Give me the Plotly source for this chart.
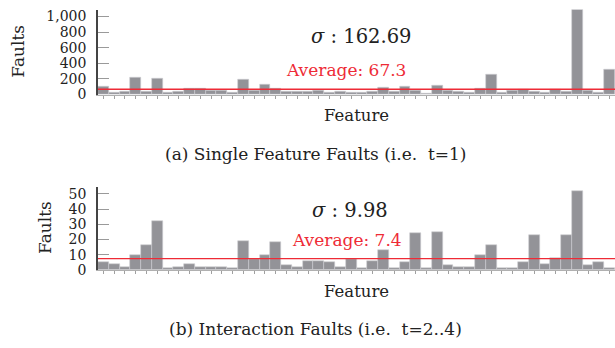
import plotly.graph_objects as go

W, H = 615, 348

features = list(range(1, 49))
single_faults = [100, 25, 42, 222, 34, 202, 20, 34, 71, 71,
                 55, 55, 20, 197, 50, 122, 71, 34, 38, 38,
                 46, 29, 38, 25, 25, 42, 84, 34, 105, 50,
                 17, 109, 46, 38, 20, 76, 260, 25, 50, 63,
                 38, 20, 67, 42, 1096, 50, 29, 315]
interaction_faults = [5, 4, 2, 10, 16, 32, 1, 2, 4, 2,
                      2, 2, 1, 19, 7, 10, 18, 3, 2, 6,
                      6, 5, 2, 7, 1, 6, 13, 1, 5, 24,
                      1, 25, 3, 2, 2, 10, 16, 1, 1, 5,
                      23, 4, 8, 23, 52, 3, 5, 1]
single_avg, single_sd = 67.3, 162.69
inter_avg, inter_sd = 7.4, 9.98
top_ticks = [0, 200, 400, 600, 800, 1000]
bot_ticks = [0, 10, 20, 30, 40, 50]

FONT = "DejaVu Serif"
BAR = "#939398"
RED = "#ee2b36"

def px(x):
    return x / W

def py(y):
    return 1 - y / H

fig = go.Figure()
fig.add_trace(go.Bar(x=features, y=single_faults, marker=dict(color=BAR, line=dict(color="#cfcfd2", width=0.6)),
                     xaxis="x", yaxis="y", showlegend=False))
fig.add_trace(go.Bar(x=features, y=interaction_faults, marker=dict(color=BAR, line=dict(color="#cfcfd2", width=0.6)),
                     xaxis="x2", yaxis="y2", showlegend=False))

xcommon = dict(range=[0.5, 48.5], showline=True, linecolor="#b0b0b0", linewidth=1,
               ticks="outside", ticklen=3, tickcolor="#a0a0a0", tickvals=features,
               showticklabels=False, showgrid=False, zeroline=False, domain=[px(98), 1])
ycommon = dict(showline=True, linecolor="#444", linewidth=1.5, ticks="inside", ticklen=11,
               tickcolor="#9a9a9a", tickwidth=1.2, showgrid=False, zeroline=False,
               tickfont=dict(family=FONT, size=14, color="#222"), ticklabelstandoff=7)

fig.update_layout(
    width=W, height=H, margin=dict(l=0, r=0, t=0, b=0),
    paper_bgcolor="white", plot_bgcolor="white", bargap=0,
    xaxis=dict(**xcommon, anchor="y"),
    xaxis2=dict(**xcommon, anchor="y2"),
    yaxis=dict(**ycommon, range=[0, 1090], tickvals=top_ticks, tickformat=",d",
               domain=[py(96), py(8.8)], anchor="x"),
    yaxis2=dict(**ycommon, range=[0, 54.5], tickvals=bot_ticks,
                domain=[py(276), py(191)], anchor="x2"),
)

fig.add_shape(type="line", xref="x domain", yref="y", x0=0, x1=1, y0=single_avg, y1=single_avg,
              line=dict(color=RED, width=1.3))
fig.add_shape(type="line", xref="x2 domain", yref="y2", x0=0, x1=1, y0=inter_avg, y1=inter_avg,
              line=dict(color=RED, width=1.3))

def ann(text, x, y, size, color="#222", angle=0):
    fig.add_annotation(text=text, x=px(x), y=py(y), xref="paper", yref="paper",
                       showarrow=False, xanchor="center", yanchor="middle", textangle=angle,
                       font=dict(family=FONT, size=size, color=color))

ann("<i>σ</i> : %.2f" % single_sd, 361, 36, 19.5)
ann("Average: %.1f" % single_avg, 346, 71, 17, RED)
ann("<i>σ</i> : %.2f" % inter_sd, 350, 215, 19.5)
ann("Average: %.1f" % inter_avg, 347, 245, 17, RED)
ann("Faults", 18, 52, 17, angle=-90)
ann("Faults", 45, 233, 17, angle=-90)
ann("Feature", 356, 118, 16.5)
ann("Feature", 356, 298, 16.5)
ann("(a) Single Feature Faults (i.e.  t=1)", 315, 157, 17)
ann("(b) Interaction Faults (i.e.  t=2..4)", 315, 337, 17)

fig.write_html("out.html", config={"displayModeBar": False},
               post_script="document.body.style.margin='0';document.body.style.overflow='hidden';document.documentElement.style.overflow='hidden';")
